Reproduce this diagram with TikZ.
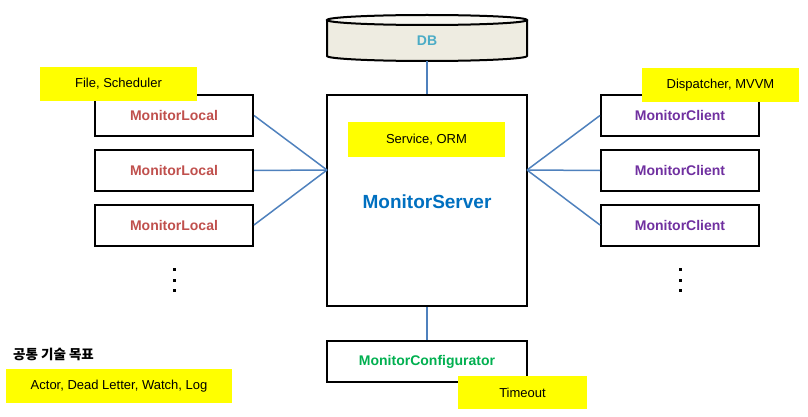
\documentclass[tikz,border=0pt]{standalone}
\usepackage{fontspec}
\setmainfont{Liberation Sans}
\newfontfamily\krfont{Noto Sans CJK KR}
\definecolor{localred}{HTML}{C0504D}
\definecolor{clientpurple}{HTML}{7030A0}
\definecolor{serverblue}{HTML}{0070C0}
\definecolor{confgreen}{HTML}{00B050}
\definecolor{dbblue}{HTML}{4BACC6}
\definecolor{linkblue}{HTML}{4F81BD}
\definecolor{dbfill}{HTML}{EEECE1}
\definecolor{dbtop}{HTML}{F8F7F2}
\definecolor{hl}{HTML}{FFFF00}
\tikzset{
  comp/.style={draw=black, line width=2pt, fill=white, inner sep=0pt,
    minimum width=158pt, minimum height=41pt,
    font=\fontsize{14}{16}\selectfont\bfseries},
  note/.style={fill=hl, inner sep=0pt, minimum height=34pt,
    font=\fontsize{13}{15}\selectfont},
  link/.style={draw=linkblue, line width=1.5pt},
  dotmark/.style={fill=black, inner sep=0pt, minimum size=3pt}
}
\begin{document}
\begin{tikzpicture}[x=1pt,y=-1pt]
\useasboundingbox (0,0) rectangle (808,417);
% DB cylinder
\node[inner sep=0pt, minimum width=200pt, minimum height=47pt] (db) at (427,37.5) {};
\fill[dbfill] (327,20) -- (327,56) arc[start angle=180, end angle=360, x radius=100pt, y radius=5pt] -- (527,20) -- cycle;
\draw[line width=2pt] (327,20) -- (327,56) arc[start angle=180, end angle=360, x radius=100pt, y radius=5pt] -- (527,20);
\draw[line width=2pt, fill=dbtop] (427,20) ellipse[x radius=100pt, y radius=5pt];
\node[inner sep=0pt, font=\fontsize{14}{16}\selectfont\bfseries, text=dbblue] (dblabel) at (427,41) {DB};
% server
\node[comp, minimum width=200pt, minimum height=211pt] (server) at (427,200.5) {};
\node[font=\fontsize{19}{22}\selectfont\bfseries, text=serverblue] (servername) at (427,202) {MonitorServer};
\node[note, minimum width=157pt, minimum height=35pt] (svc) at (426.5,139.5) {Service, ORM};
\coordinate (sl) at (327,170);
\coordinate (sr) at (527,170);
% locals
\node[comp, text=localred] (l1) at (174,115.5) {MonitorLocal};
\node[comp, text=localred] (l2) at (174,170.5) {MonitorLocal};
\node[comp, text=localred] (l3) at (174,225) {MonitorLocal};
% clients
\node[comp, text=clientpurple] (c1) at (680,115.5) {MonitorClient};
\node[comp, text=clientpurple] (c2) at (680,170.5) {MonitorClient};
\node[comp, text=clientpurple] (c3) at (680,225) {MonitorClient};
% configurator
\node[comp, minimum width=200pt, text=confgreen] (conf) at (427,361.5) {MonitorConfigurator};
% links
\draw[link] (db.south) -- (server.north);
\draw[link] (server.south) -- (conf.north);
\draw[link] (l1.east) -- (sl);
\draw[link] (l2.east) -- (sl);
\draw[link] (l3.east) -- (sl);
\draw[link] (c1.west) -- (sr);
\draw[link] (c2.west) -- (sr);
\draw[link] (c3.west) -- (sr);
% notes
\node[note, minimum width=157pt] (nl) at (118.5,84) {File, Scheduler};
\node[note, minimum width=157pt] (nc) at (720.5,85) {Dispatcher, MVVM};
\node[note, minimum width=129pt, minimum height=33pt] (nt) at (522.5,392.5) {Timeout};
\node[note, minimum width=226pt] (na) at (119,386) {Actor, Dead Letter, Watch, Log};
\node[anchor=west, inner sep=0pt, font=\krfont\fontsize{13.5}{15}\selectfont\bfseries] (goal) at (13,354) {공통 기술 목표};
% dots
\node[dotmark] (dl1) at (174,269) {};
\node[dotmark] (dl2) at (174,280) {};
\node[dotmark] (dl3) at (174,290) {};
\node[dotmark] (dr1) at (680,269) {};
\node[dotmark] (dr2) at (680,280) {};
\node[dotmark] (dr3) at (680,290) {};
\end{tikzpicture}
\end{document}
